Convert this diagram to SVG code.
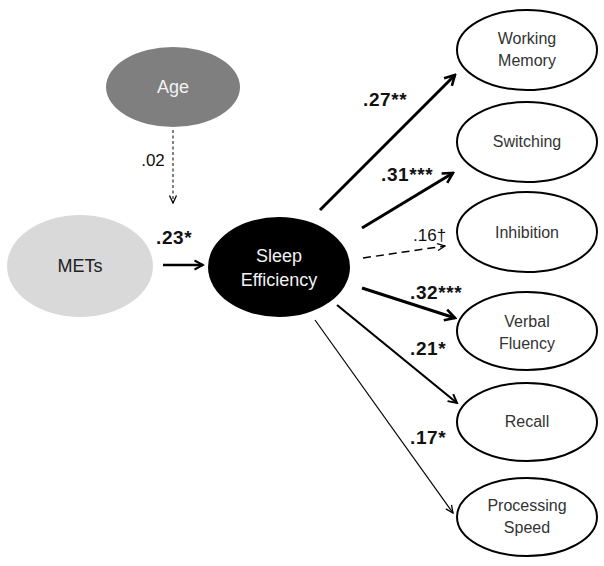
<svg xmlns="http://www.w3.org/2000/svg" width="604" height="566" viewBox="0 0 604 566">
<style>
.n{font-family:"Liberation Sans",Arial,sans-serif;font-size:16px;fill:#333;text-anchor:middle}
.w{font-family:"Liberation Sans",Arial,sans-serif;font-size:18px;text-anchor:middle}
.lb{font-family:"Liberation Sans",Arial,sans-serif;font-size:19px;font-weight:bold;fill:#111;letter-spacing:0.6px}
.ln{font-family:"Liberation Sans",Arial,sans-serif;font-size:17px;fill:#111}
.out{fill:#fff;stroke:#000;stroke-width:2}
.c{fill:none;stroke:#000}
</style>
<defs>
<marker id="big" viewBox="0 0 14 14" refX="12" refY="7" markerWidth="14" markerHeight="14" markerUnits="userSpaceOnUse" orient="auto">
<path d="M2,1.5 L12,7 L2,12.5" fill="none" stroke="#000" stroke-width="2.6"/>
</marker>
<marker id="mid" viewBox="0 0 12 12" refX="10.5" refY="6" markerWidth="12" markerHeight="12" markerUnits="userSpaceOnUse" orient="auto">
<path d="M2,1.5 L10.5,6 L2,10.5" fill="none" stroke="#000" stroke-width="2"/>
</marker>
<marker id="sm" viewBox="0 0 10 10" refX="9" refY="5" markerWidth="10" markerHeight="10" markerUnits="userSpaceOnUse" orient="auto">
<path d="M1.5,1.5 L9,5 L1.5,8.5" fill="none" stroke="#000" stroke-width="1.3"/>
</marker>
</defs>
<g id="connectors">
<line class="c" x1="173" y1="130" x2="173" y2="203" stroke-width="1" stroke-dasharray="3,2.5" marker-end="url(#sm)"/>
<line class="c" x1="163" y1="265" x2="203" y2="265" stroke-width="2.6" marker-end="url(#mid)"/>
<line class="c" x1="320" y1="210" x2="455" y2="75" stroke-width="3" marker-end="url(#big)"/>
<line class="c" x1="362" y1="228" x2="453" y2="173" stroke-width="3" marker-end="url(#big)"/>
<line class="c" x1="363" y1="258" x2="445" y2="246" stroke-width="1.5" stroke-dasharray="8,5" marker-end="url(#sm)"/>
<line class="c" x1="362" y1="288" x2="455" y2="318" stroke-width="3" marker-end="url(#big)"/>
<line class="c" x1="337" y1="305" x2="457" y2="403" stroke-width="2.2" marker-end="url(#mid)"/>
<line class="c" x1="315" y1="320" x2="453" y2="513" stroke-width="1.2" marker-end="url(#sm)"/>
<text class="ln" x="153" y="166" text-anchor="middle">.02</text>
<text class="lb" x="156" y="244">.23*</text>
<text class="lb" x="363" y="106">.27**</text>
<text class="lb" x="381" y="181">.31***</text>
<text class="ln" x="413" y="241">.16†</text>
<text class="lb" x="410" y="299">.32***</text>
<text class="lb" x="410" y="355">.21*</text>
<text class="lb" x="410" y="444">.17*</text>
</g>
<g id="age"><ellipse cx="173" cy="87" rx="67" ry="40" fill="#7f7f7f"/><text class="w" x="173" y="93" fill="#f2f2f2">Age</text></g>
<g id="mets"><ellipse cx="80" cy="266" rx="73" ry="51" fill="#d9d9d9"/><text class="w" x="80" y="272" fill="#222">METs</text></g>
<g id="sleep"><ellipse cx="279" cy="267" rx="71" ry="50" fill="#000"/><text class="w" x="279" y="262" fill="#f2f2f2">Sleep</text><text class="w" x="279" y="286" fill="#f2f2f2">Efficiency</text></g>
<g id="wm"><ellipse class="out" cx="527" cy="50" rx="70" ry="40"/><text class="n" x="527" y="44">Working</text><text class="n" x="527" y="66">Memory</text></g>
<g id="sw"><ellipse class="out" cx="527" cy="142" rx="70" ry="40"/><text class="n" x="527" y="147">Switching</text></g>
<g id="inh"><ellipse class="out" cx="527" cy="232" rx="70" ry="40"/><text class="n" x="527" y="238">Inhibition</text></g>
<g id="vf"><ellipse class="out" cx="527" cy="331" rx="70" ry="39"/><text class="n" x="527" y="327">Verbal</text><text class="n" x="527" y="349">Fluency</text></g>
<g id="rc"><ellipse class="out" cx="527" cy="422" rx="70" ry="39"/><text class="n" x="527" y="427">Recall</text></g>
<g id="ps"><ellipse class="out" cx="527" cy="517" rx="70" ry="39"/><text class="n" x="527" y="511">Processing</text><text class="n" x="527" y="533">Speed</text></g>
</svg>
